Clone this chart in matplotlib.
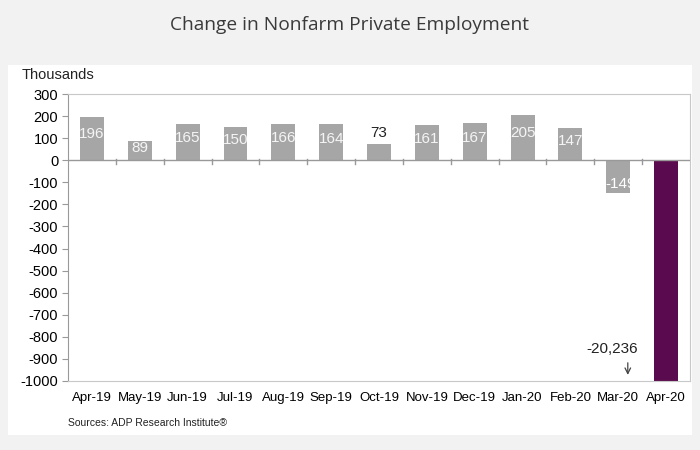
import numpy as np
import matplotlib
matplotlib.use('Agg')
import matplotlib.pyplot as plt
from matplotlib.patches import Rectangle

plt.rcParams['font.family'] = ['Liberation Sans', 'DejaVu Sans']
plt.rcParams['axes.unicode_minus'] = False

# Data (thousands)
months = ['Apr-19', 'May-19', 'Jun-19', 'Jul-19', 'Aug-19', 'Sep-19', 'Oct-19',
          'Nov-19', 'Dec-19', 'Jan-20', 'Feb-20', 'Mar-20', 'Apr-20']
changes = [196, 89, 165, 150, 166, 164, 73, 161, 167, 205, 147, -149, -20236]
bar_colors = ['#a6a6a6'] * 12 + ['#5a0a4e']

fig = plt.figure(figsize=(7, 4.5), dpi=100)
fig.patch.set_facecolor('#f2f2f2')
# white panel behind the chart
fig.patches.append(Rectangle((8 / 700, 15 / 450), 684 / 700, 370 / 450,
                             transform=fig.transFigure, facecolor='white',
                             edgecolor='none', zorder=-5))

fig.text(0.5, 1 - 25 / 450, 'Change in Nonfarm Private Employment',
         ha='center', va='center', fontsize=13.8, color='#3a3a3a', family='Open Sans')

ax = fig.add_axes([68 / 700, 1 - 381 / 450, 622 / 700, 287 / 450])
ax.set_facecolor('white')
x = np.arange(len(months))
ax.bar(x, changes, width=0.5, color=bar_colors, zorder=2)
ax.set_xlim(-0.5, len(months) - 0.5)
ax.set_ylim(-1000, 300)
ax.set_yticks(range(-1000, 301, 100))
ax.tick_params(axis='y', labelsize=10.5, length=4, color='#999999', pad=3)
ax.tick_params(axis='x', length=0, labelsize=9.5, pad=8)
ax.set_xticks(x)
ax.set_xticklabels(months)
for s in ax.spines.values():
    s.set_color('#c8c8c8')
ax.spines['left'].set_color('#999999')

# zero line with category-boundary ticks
ax.axhline(0, color='#999999', lw=1, zorder=3)
for b in np.arange(0.5, len(months) - 1, 1.0):
    ax.plot([b, b], [-18, 6], color='#999999', lw=1, zorder=3)

# value labels
for i, v in enumerate(changes[:-1]):
    if v == 73:
        ax.text(i, v + 20, str(v), ha='center', va='bottom', fontsize=11, color='#222222')
    elif v < 0:
        ax.text(i + 0.05, v + 40, str(v), ha='center', va='center', fontsize=11, color='white', zorder=4)
    else:
        ax.text(i, v * 0.6, str(v), ha='center', va='center', fontsize=11, color='#f5f5f5', zorder=4)

ax.annotate('', xy=(11.2, -985), xytext=(11.2, -905),
            arrowprops=dict(arrowstyle='->', color='#444444', lw=0.9))
ax.text(10.87, -855, '{:,}'.format(changes[-1]), ha='center', va='center',
        fontsize=11, color='#222222')

fig.text(22 / 700, 1 - 75 / 450, 'Thousands', ha='left', va='center', fontsize=10.5, color='#222222')
fig.text(68 / 700, 1 - 423 / 450, 'Sources: ADP Research Institute\u00ae', ha='left',
         va='center', fontsize=7.5, color='#222222')

fig.savefig('out.png', dpi=100, facecolor=fig.get_facecolor())
